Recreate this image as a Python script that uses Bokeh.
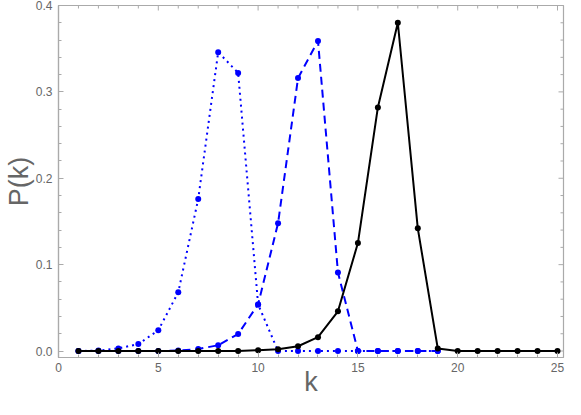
import math
from bokeh.plotting import figure
from bokeh.models import Range1d, SingleIntervalTicker, NumeralTickFormatter, ColumnDataSource
from bokeh.embed import file_html
from bokeh.resources import INLINE

# data
k_blue = list(range(1, 20))
p_dotted = [0.0, 0.0005, 0.003, 0.008, 0.024, 0.068, 0.176, 0.346, 0.322, 0.054,
            0.0, 0.0, 0.0, 0.0, 0.0, 0.0, 0.0, 0.0, 0.0]
p_dashed = [0.0, 0.0, 0.0, 0.0, 0.0, 0.0005, 0.0023, 0.0067, 0.0197, 0.054,
            0.148, 0.316, 0.359, 0.091, 0.0, 0.0, 0.0, 0.0, 0.0]
k_black = list(range(1, 26))
p_solid = [0.0, 0.0, 0.0, 0.0, 0.0, 0.0, 0.0, 0.0, 0.0, 0.001,
           0.002, 0.0055, 0.016, 0.046, 0.125, 0.282, 0.380, 0.142, 0.003, 0.0,
           0.0, 0.0, 0.0, 0.0, 0.0]
x_ticks = [0, 5, 10, 15, 20, 25]
y_ticks = [0.0, 0.1, 0.2, 0.3, 0.4]
x_label = "k"
y_label = "P(k)"

FRAME = "#aaaaaa"
LABEL = "#666666"
FONT = "Liberation Sans"
X0, X1 = 0, 25.3
Y0, Y1 = -0.0075, 0.4

p = figure(width=565, height=399, output_backend="svg", toolbar_location=None,
           x_range=Range1d(X0, X1), y_range=Range1d(Y0, Y1),
           x_axis_label=x_label, y_axis_label=y_label,
           min_border_left=10, min_border_right=2, min_border_top=5, min_border_bottom=10)
p.grid.visible = False
p.outline_line_color = FRAME
p.outline_line_width = 1.2
p.background_fill_color = "white"
p.border_fill_color = "white"

x_step = x_ticks[1] - x_ticks[0]
y_step = y_ticks[1] - y_ticks[0]
p.xaxis.ticker = SingleIntervalTicker(interval=x_step, num_minor_ticks=5)
p.yaxis.ticker = SingleIntervalTicker(interval=y_step, num_minor_ticks=5)
p.yaxis.formatter = NumeralTickFormatter(format="0.0")
for ax in (p.xaxis[0], p.yaxis[0]):
    ax.axis_line_color = FRAME
    ax.axis_line_width = 1.2
    ax.major_tick_line_color = FRAME
    ax.minor_tick_line_color = FRAME
    ax.major_tick_in = 5
    ax.major_tick_out = 0
    ax.minor_tick_in = 3
    ax.minor_tick_out = 0
    ax.major_label_text_color = LABEL
    ax.major_label_text_font = FONT
    ax.major_label_text_font_size = "12px"
    ax.axis_label_text_color = LABEL
    ax.axis_label_text_font = FONT
    ax.axis_label_text_font_size = "27px"
    ax.axis_label_text_font_style = "normal"
p.xaxis.major_label_standoff = 5
p.xaxis.axis_label_standoff = -8
p.yaxis.major_label_standoff = 6
p.yaxis.axis_label_standoff = -1

# frame ticks on top and right edges (mirroring the axis tick positions)
x_minor = [x_ticks[0] + i * x_step / 5 for i in range(5 * (len(x_ticks) - 1) + 1)]
y_minor = [y_ticks[0] + i * y_step / 5 for i in range(5 * (len(y_ticks) - 1) + 1)]
top_len = [5 if i % 5 == 0 else 3 for i in range(len(x_minor))]
right_len = [5 if i % 5 == 0 else 3 for i in range(len(y_minor))]
p.ray(x=x_minor, y=[Y1] * len(x_minor), length=top_len, length_units="screen",
      angle=-math.pi / 2, line_color=FRAME, line_width=1)
p.ray(x=[X1] * len(y_minor), y=y_minor, length=right_len, length_units="screen",
      angle=math.pi, line_color=FRAME, line_width=1)

src_dot = ColumnDataSource(dict(k=k_blue, p=p_dotted))
src_dash = ColumnDataSource(dict(k=k_blue, p=p_dashed))
src_solid = ColumnDataSource(dict(k=k_black, p=p_solid))

p.line("k", "p", source=src_dot, line_color="blue", line_width=2, line_dash="2 4")
p.scatter("k", "p", source=src_dot, marker="circle", size=6, fill_color="blue", line_color=None)
p.line("k", "p", source=src_dash, line_color="blue", line_width=2, line_dash="8 5")
p.scatter("k", "p", source=src_dash, marker="circle", size=6, fill_color="blue", line_color=None)
p.line("k", "p", source=src_solid, line_color="black", line_width=2)
p.scatter("k", "p", source=src_solid, marker="circle", size=6, fill_color="black", line_color=None)

open("out.html", "w").write(file_html(p, INLINE))
